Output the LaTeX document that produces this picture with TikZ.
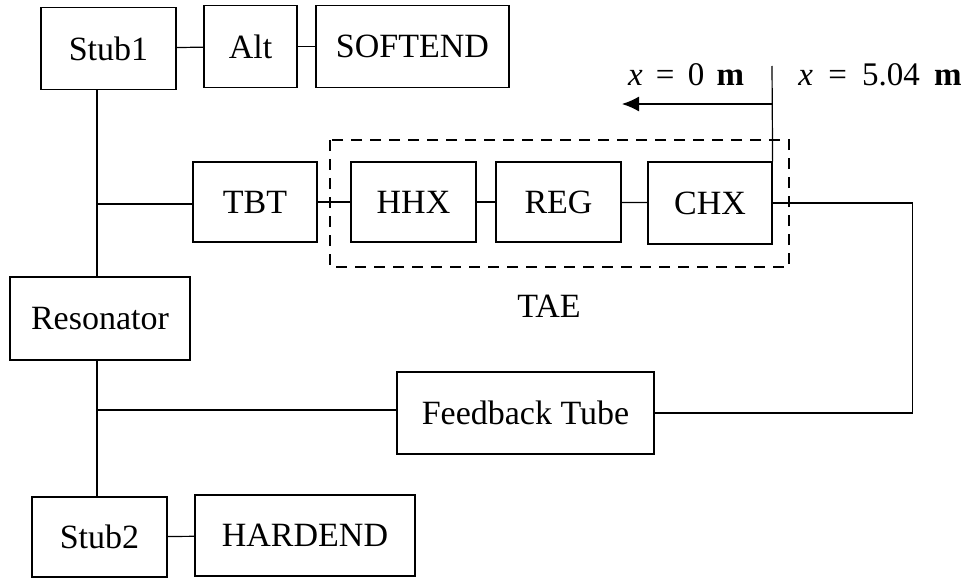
\documentclass[tikz,border=0pt]{standalone}
\usepackage{fontspec}
\setmainfont{Liberation Serif}
\usetikzlibrary{arrows.meta}

\begin{document}
\begin{tikzpicture}[x=1pt, y=-1pt,
  box/.style={draw, line width=1.2pt, inner sep=0pt, minimum height=82pt, font=\fontsize{34}{39}\selectfont},
  line/.style={line width=1.2pt},
  arr/.style={-{Latex[length=17pt,width=15pt]}, line width=1.2pt},
  lbl/.style={font=\fontsize{33}{38}\selectfont}
]
\useasboundingbox (0,0) rectangle (966,578);
\node[box, minimum width=135pt] (stub1) at (108.5,48.5) {Stub1};
\node[box, minimum width=93pt] (alt) at (250.5,46.5) {Alt};
\node[box, minimum width=193pt] (soft) at (412.5,46.5) {SOFTEND};
\node[box, minimum width=124pt, minimum height=80pt] (tbt) at (255,202) {TBT};
\node[box, minimum width=125pt, minimum height=80pt] (hhx) at (413.5,202) {HHX};
\node[box, minimum width=125pt, minimum height=80pt] (reg) at (558.5,202) {REG};
\node[box, minimum width=124pt] (chx) at (710,203) {CHX};
\node[box, minimum width=180pt, minimum height=83pt] (res) at (100,318.5) {Resonator};
\node[box, minimum width=257pt] (fb) at (525.5,413) {Feedback Tube};
\node[box, minimum width=135pt, minimum height=80pt] (stub2) at (99.5,537) {Stub2};
\node[box, minimum width=220pt, minimum height=81pt] (hard) at (305,535.5) {HARDEND};
% TAE group
\draw[line, dash pattern=on 11pt off 8pt] (330,140) rectangle (789,267);
\node[font=\fontsize{34}{39}\selectfont] (tae) at (549,306) {TAE};
% junctions on the trunk
\coordinate (jtop) at (97,204);
\coordinate (jbot) at (97,410);
\draw[line] (stub1) -- (alt);
\draw[line] (alt) -- (soft);
\draw[line] (stub1.south -| jtop) -- (res.north -| jtop);
\draw[line] (res.south -| jbot) -- (stub2.north -| jbot);
\draw[line] (jtop) -- (tbt.west |- jtop);
\draw[line] (tbt) -- (hhx);
\draw[line] (hhx) -- (reg);
\draw[line] (reg) -- (chx);
\draw[line] (chx.east) -- ++(140,0) |- (fb.east);
\draw[line] (jbot) -- (fb.west |- jbot);
\draw[line] (stub2) -- (hard);
% position marker
\coordinate (mk) at (772,66);
\coordinate (arrs) at (772,104);
\coordinate (arre) at (622,104);
\draw[line] (mk) -- (chx.north east);
\draw[arr] (arrs) -- (arre);
\node[lbl] (x0) at (686,75) {\textit{x}\hspace{5pt} = \hspace{5pt}0\hspace{4pt} \textbf{m}};
\node[lbl] (x5) at (880,75) {\textit{x}\hspace{7pt} = \hspace{7pt}5.04\hspace{6pt} \textbf{m}};
\end{tikzpicture}
\end{document}
